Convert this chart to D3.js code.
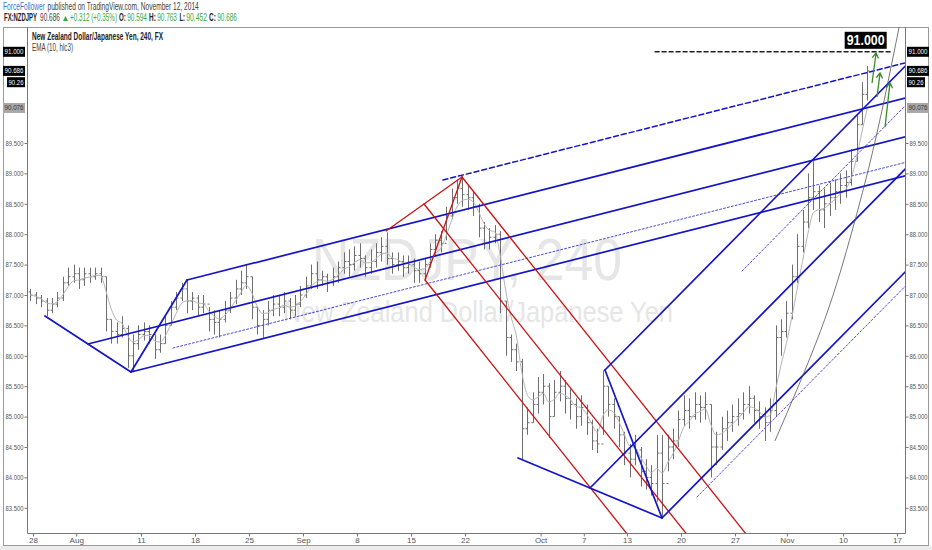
<!DOCTYPE html>
<html><head><meta charset="utf-8">
<script src="https://cdn.jsdelivr.net/npm/d3@7"></script>
<style>body{margin:0;background:#fff;font-family:"Liberation Sans",Arial,sans-serif}svg{display:block}</style>
</head><body><svg id="c" width="932" height="550"></svg>
<script>
// ---------- DATA ----------
// 12h bars, position in trading days from Mon Jul 28 (bar k at t = firstBarT + k*barStep)
const firstBarT = -0.25, barStep = 0.5, firstOpen = 87.05;
const barHigh = [
87.1,87.05,87.0,86.95,86.95,87.05,87.3,87.45,87.5,87.45,
87.45,87.45,87.45,87.45,87.3,86.6,86.55,86.65,86.5,86.35,
86.5,86.55,86.5,86.35,86.35,86.65,86.9,87.05,87.2,87.25,
87.05,87.0,87.0,86.8,86.75,86.75,86.9,87.05,87.25,87.4,
87.5,87.3,86.8,86.75,86.9,87.0,87.0,87.05,86.95,87.0,
87.15,87.3,87.5,87.55,87.4,87.35,87.45,87.55,87.7,87.75,
87.8,87.85,87.65,87.75,87.85,87.95,88.03,87.7,87.7,87.65,
87.65,87.6,87.55,87.6,87.85,88.0,88.05,88.45,88.75,88.9,
88.95,88.8,88.7,88.5,88.2,88.1,88.15,88.05,86.9,86.35,
86.2,85.95,85.15,85.4,85.65,85.7,85.55,85.6,85.75,85.6,
85.45,85.3,85.35,85.2,84.95,84.8,85.76,85.5,85.3,85.0,
84.75,84.55,84.7,84.5,84.3,84.2,84.7,84.7,84.7,84.8,
85.1,85.35,85.3,85.4,85.35,85.4,85.2,84.75,85.0,85.1,
85.2,85.3,85.4,85.5,85.35,85.25,85.15,85.3,86.5,86.6,
86.9,87.5,88.0,88.4,89.0,89.2,88.8,88.75,88.85,88.9,
89.0,89.05,89.4,89.95,90.5,90.763];
const barLow = [
86.9,86.85,86.8,86.65,86.7,86.8,86.9,87.15,87.2,87.1,
87.15,87.2,87.25,87.2,86.4,86.2,86.2,86.3,85.8,85.73,
86.1,86.25,86.2,85.95,86.05,86.2,86.5,86.75,86.9,86.7,
86.75,86.65,86.7,86.4,86.35,86.3,86.55,86.7,86.85,87.0,
87.1,86.6,86.35,86.3,86.5,86.65,86.65,86.7,86.6,86.65,
86.8,86.95,87.1,87.1,87.15,87.05,87.15,87.2,87.35,87.3,
87.4,87.45,87.3,87.35,87.45,87.55,87.5,87.35,87.4,87.3,
87.35,87.2,87.2,87.24,87.45,87.65,87.7,87.9,88.25,88.5,
88.45,88.4,88.3,87.95,87.75,87.75,87.85,86.7,86.0,85.9,
85.75,84.3,84.7,84.9,85.05,85.2,84.65,85.0,85.25,85.05,
84.95,84.8,84.85,84.7,84.45,84.4,84.7,85.0,84.8,84.5,
84.2,84.0,84.2,83.85,83.8,83.7,83.6,83.33,84.1,84.3,
84.5,84.85,84.8,84.95,84.9,84.95,84.0,84.2,84.45,84.6,
84.75,84.85,84.95,85.05,84.9,84.8,84.6,84.75,85.0,86.0,
86.3,86.6,87.2,87.7,88.1,88.4,88.2,88.1,88.3,88.4,
88.5,88.6,88.8,89.2,89.8,90.2];
const barClose = [
87.0,86.95,86.9,86.75,86.85,86.95,87.2,87.3,87.35,87.25,
87.35,87.3,87.35,87.3,86.6,86.4,86.35,86.45,86.0,86.2,
86.35,86.4,86.35,86.1,86.2,86.5,86.8,86.95,87.1,86.9,
86.95,86.8,86.85,86.6,86.55,86.6,86.75,86.95,87.1,87.2,
87.3,86.8,86.5,86.6,86.75,86.85,86.8,86.9,86.75,86.85,
87.0,87.15,87.35,87.25,87.3,87.2,87.3,87.45,87.55,87.5,
87.65,87.6,87.45,87.55,87.7,87.8,87.6,87.5,87.55,87.45,
87.5,87.4,87.35,87.5,87.75,87.9,87.85,88.3,88.6,88.75,
88.65,88.6,88.45,88.1,87.85,87.95,88.0,86.9,86.3,86.1,
85.9,84.8,84.9,85.2,85.4,85.5,85.0,85.4,85.5,85.3,
85.2,85.0,85.15,84.9,84.6,84.55,85.5,85.2,85.0,84.7,
84.4,84.3,84.45,84.1,84.0,83.9,84.4,83.9,84.5,84.6,
84.95,85.1,85.0,85.2,85.15,85.2,84.5,84.5,84.8,84.9,
85.0,85.05,85.2,85.3,85.1,85.0,84.9,85.1,86.3,86.4,
86.7,87.3,87.8,88.2,88.6,88.7,88.4,88.5,88.6,88.7,
88.8,88.85,89.2,89.8,90.3,90.686];

const dateTicks  = [0,4,10,15,20,25,30,35,40,47,51,55,60,65,69.8,75,80];
const dateLabels = ["28","Aug","11","18","25","Sep","8","15","22","Oct","7","13","20","27","Nov","10","17"];
const priceTicks = [83.5,84,84.5,85,85.5,86,86.5,87,87.5,88,88.5,89,89.5];

// price tags on both scales
const tagValues = [91.0, 90.686, 90.50, 90.076];
const tagTexts  = ["91.000","90.686","90.26","90.076"];
const tagKinds  = ["dark","dark","dark","grey"];

// header pieces: text, colour, weight
const headerLine1 = [["ForceFollower","#3a78c8","normal"],["published on TradingView.com, November 12, 2014","#444","normal"]];
const headerLine2 = [["FX:NZDJPY","#222","bold"],["90.686","#444","normal"],["+0.312 (+0.35%)","#3aa844","normal"],
 ["O:","#222","bold"],["90.594","#3aa844","normal"],["H:","#222","bold"],["90.763","#3aa844","normal"],
 ["L:","#222","bold"],["90.452","#3aa844","normal"],["C:","#222","bold"],["90.686","#3aa844","normal"]];

// pitchfork pivots [t, price]
const fork1   = [[1.11,86.655],[9.07,85.734],[14.26,87.247]];
const forkRed = [[32.69,88.053],[39.72,88.941],[36.30,87.247]];
const fork2   = [[44.91,84.319],[58.24,83.332],[52.96,85.766]];
const fork1Dotted = [12.96,86.128];
const fork1Dashed = [37.96,88.891];
const fork2Dotted = [[65.65,87.395],[61.48,83.678]];
const targetLevel = 91.0, targetFrom = 57.6, targetTo = 79.6;
const targetText = "91.000", targetTextT = 77.1;
const curveT = [68.7,72.9,75.6,78.0,80.3];
const curveP = [84.6,86.4,87.9,89.55,91.5];
const arrowFrom = [[77.69,90.487],[78.15,90.257],[78.89,89.76]];
const arrowTo   = [[78.06,90.98],[78.43,90.65],[79.35,90.49]];

// ---------- DRAW ----------
const PL=27, PR=905, PT=27, PB=533;
const x = d3.scaleLinear().domain([0,80]).range([33,897]);
const y = d3.scaleLinear().domain([83.5,91]).range([507.8,51.8]);
const svg = d3.select('#c');
const FONT = '"Liberation Sans",Arial,sans-serif';

svg.append('rect').attr('x',0).attr('y',0).attr('width',932).attr('height',550).attr('fill','#fff');
svg.append('rect').attr('x',0).attr('y',546).attr('width',932).attr('height',4).attr('fill','#ececec');
svg.append('rect').attr('x',3.5).attr('y',27.5).attr('width',925).attr('height',518).attr('fill','#fff').attr('stroke','#9a9a9a');

// header: each piece squeezed horizontally into its slot
function fitText(parent, str, x0, x1, yb, fill, weight, size){
  const t = parent.append('text').attr('x',0).attr('y',0).attr('font-family',FONT).attr('font-size',size)
    .attr('font-weight',weight).attr('fill',fill).text(str);
  const w = t.node().getComputedTextLength();
  t.attr('transform',`translate(${x0},${yb}) scale(${(x1-x0)/w},1)`);
  return t;
}
const slots1 = [[3,45],[47.5,199]];
headerLine1.forEach((d,i)=>fitText(svg,d[0],slots1[i][0],slots1[i][1],10,d[1],d[2],10));
const slots2 = [[4,37],[40,60],[70,117],[119,125.8],[127.2,147],[149,155.8],[157.2,177],[179.5,185],[186.3,207],[209,215.8],[217.2,237]];
headerLine2.forEach((d,i)=>fitText(svg,d[0],slots2[i][0],slots2[i][1],21,d[1],d[2],10));
svg.append('path').attr('d','M63,21 L65.5,16 L68,21 Z').attr('fill','#3aa844');

// clip
svg.append('clipPath').attr('id','pc').append('rect').attr('x',PL).attr('y',PT).attr('width',PR-PL).attr('height',PB-PT);
const plot = svg.append('g').attr('clip-path','url(#pc)');

// watermark
plot.append('text').attr('x',312).attr('y',280).attr('font-family',FONT).attr('font-size',60)
  .attr('fill','#e6e6e6').attr('textLength',310).attr('lengthAdjust','spacingAndGlyphs').text('NZDJPY, 240');
plot.append('text').attr('x',283).attr('y',322).attr('font-family',FONT).attr('font-size',30)
  .attr('fill','#e6e6e6').attr('textLength',390).attr('lengthAdjust','spacingAndGlyphs').text('New Zealand Dollar/Japanese Yen');

// bars
const bars = barClose.map((c,k)=>({t:firstBarT+k*barStep,h:barHigh[k],l:barLow[k],c:c,o:k?barClose[k-1]:firstOpen}));
plot.append('path').attr('fill','none').attr('stroke','#6e6e6e').attr('stroke-width',1)
  .attr('d',bars.map(b=>{const X=Math.round(x(b.t))+0.5;
    return `M${X},${y(b.h)}V${y(b.l)}M${X-2},${y(b.o)}H${X}M${X},${y(b.c)}H${X+2}`;}).join(''));

// EMA(10, hlc3) rescaled to 12h bars
const alpha = 1-Math.pow(1-2/11,3);
let e=null; const ema=bars.map(b=>{const v=(b.h+b.l+b.c)/3; e=e===null?v:e+alpha*(v-e); return [b.t,e];});
plot.append('path').attr('fill','none').attr('stroke','#b4b4b4').attr('stroke-width',1)
  .attr('d',d3.line().x(d=>x(d[0])).y(d=>y(d[1])).curve(d3.curveMonotoneX)(ema));

// helpers
const seg=(p,q,col,w,dash)=>plot.append('line').attr('x1',x(p[0])).attr('y1',y(p[1])).attr('x2',x(q[0])).attr('y2',y(q[1]))
  .attr('stroke',col).attr('stroke-width',w).attr('stroke-dasharray',dash||null).attr('stroke-linecap','round');
const ray=(p,dir,col,w,dash)=>seg(p,[p[0]+dir[0]*60,p[1]+dir[1]*60],col,w,dash);
const mid=(a,b)=>[(a[0]+b[0])/2,(a[1]+b[1])/2];
function schiff(f,col,w){
  const [A,B,C]=f, M=mid(A,B), N=mid(B,C), dir=[N[0]-M[0],N[1]-M[1]];
  seg(A,B,col,w); seg(B,C,col,w);
  [M,B,C].forEach(p=>ray(p,dir,col,w));
  return dir;
}
const BLUE='#1414c8', RED='#c81414';
const d1 = schiff(fork1,BLUE,1.7);
ray(fork1Dotted,d1,'#4a4ae0',1,'2,2');
ray(fork1Dashed,d1,BLUE,1.5,'5,3');
schiff(forkRed,RED,1.3);
const d2 = schiff(fork2,BLUE,1.7);
fork2Dotted.forEach(p=>ray(p,d2,'#4a4ae0',1,'2,2'));

// curved trend line
plot.append('path').attr('fill','none').attr('stroke','#555').attr('stroke-width',0.8)
  .attr('d',d3.line().x((d,i)=>x(curveT[i])).y((d,i)=>y(curveP[i])).curve(d3.curveNatural)(curveT));

// target level
seg([targetFrom,targetLevel],[targetTo,targetLevel],'#222',1.5,'4,3');
const tg=plot.append('g');
tg.append('rect').attr('x',x(targetTextT)-21).attr('y',y(targetLevel)-20).attr('width',42).attr('height',17).attr('fill','#000');
tg.append('text').attr('x',x(targetTextT)).attr('y',y(targetLevel)-6.5).attr('text-anchor','middle').attr('font-family',FONT)
  .attr('font-weight','bold').attr('font-size',14).attr('fill','#fff').attr('textLength',38).attr('lengthAdjust','spacingAndGlyphs').text(targetText);

// green arrows
arrowFrom.forEach((p,i)=>{
  const q=arrowTo[i], X1=x(p[0]),Y1=y(p[1]),X2=x(q[0]),Y2=y(q[1]);
  const a=Math.atan2(Y2-Y1,X2-X1), L=6;
  const w1=[X2-L*Math.cos(a-0.55),Y2-L*Math.sin(a-0.55)], w2=[X2-L*Math.cos(a+0.55),Y2-L*Math.sin(a+0.55)];
  plot.append('path').attr('fill','none').attr('stroke','#3a8a28').attr('stroke-width',1.3)
    .attr('d',`M${X1},${Y1}L${X2},${Y2}M${w1[0]},${w1[1]}L${X2},${Y2}L${w2[0]},${w2[1]}`);
});

// legend
svg.append('text').attr('x',32).attr('y',40).attr('font-family',FONT).attr('font-size',10).attr('font-weight','bold').attr('fill','#222')
  .attr('textLength',131).attr('lengthAdjust','spacingAndGlyphs').text('New Zealand Dollar/Japanese Yen, 240, FX');
svg.append('text').attr('x',32).attr('y',51).attr('font-family',FONT).attr('font-size',10).attr('fill','#444')
  .attr('textLength',41).attr('lengthAdjust','spacingAndGlyphs').text('EMA (10, hlc3)');

// frame lines
svg.append('path').attr('fill','none').attr('stroke','#777').attr('stroke-width',1)
  .attr('d',`M${PL+0.5},${PT}V${PB+0.5}H${PR+0.5}V${PT}`);

// axes
const fmt=d3.format('.3f');
function styleAxis(g,len){
  g.select('.domain').remove();
  g.selectAll('line').attr('stroke','#777');
  g.selectAll('text').attr('font-family',FONT).attr('font-size',7).attr('fill','#555');
  if(len) g.selectAll('text').attr('textLength',len).attr('lengthAdjust','spacingAndGlyphs');
}
const ra=svg.append('g').attr('transform',`translate(${PR+0.5},0)`).call(d3.axisRight(y).tickValues(priceTicks).tickFormat(fmt).tickSize(3).tickPadding(1));
styleAxis(ra,18);
const la=svg.append('g').attr('transform',`translate(${PL+0.5},0)`).call(d3.axisLeft(y).tickValues(priceTicks).tickFormat(fmt).tickSize(3).tickPadding(1));
styleAxis(la,18);
const ba=svg.append('g').attr('transform',`translate(0,${PB+0.5})`).call(d3.axisBottom(x).tickValues(dateTicks).tickFormat((d,i)=>dateLabels[i]).tickSize(3).tickPadding(1));
styleAxis(ba,null);
ba.selectAll('text').attr('font-size',8);

// price tags
tagValues.forEach((v,i)=>{
  const Y=y(v), dark=tagKinds[i]==='dark', wR=tagTexts[i].length>5?22:18;
  [[PR+2,'start'],[PL-2,'end']].forEach(([X0,anc])=>{
    const bx = anc==='start'?X0:X0-wR;
    svg.append('rect').attr('x',bx).attr('y',Y-5).attr('width',wR).attr('height',10).attr('fill',dark?'#000':'#a8a8a8');
    svg.append('text').attr('x',bx+wR/2).attr('y',Y+2.5).attr('text-anchor','middle').attr('font-family',FONT).attr('font-size',7)
      .attr('fill',dark?'#fff':'#333').attr('textLength',wR-3).attr('lengthAdjust','spacingAndGlyphs').text(tagTexts[i]);
  });
});
</script></body></html>
